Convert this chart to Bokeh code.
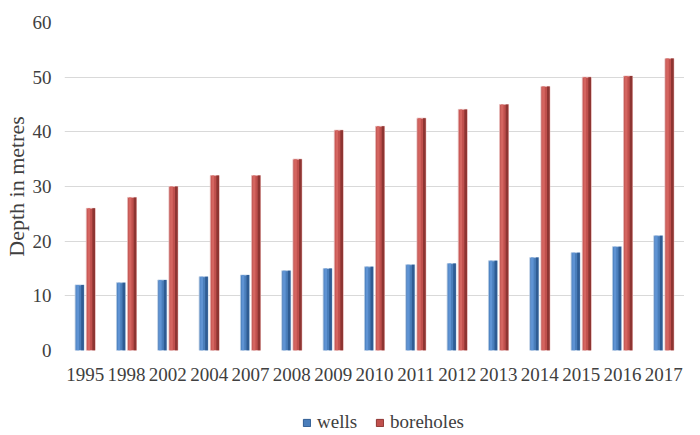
from bokeh.plotting import figure
from bokeh.layouts import column
from bokeh.models import ColumnDataSource, FactorRange, Legend, LegendItem, SingleIntervalTicker
from bokeh.transform import dodge
from bokeh.embed import file_html
from bokeh.resources import INLINE

years = ["1995", "1998", "2002", "2004", "2007", "2008", "2009", "2010",
         "2011", "2012", "2013", "2014", "2015", "2016", "2017"]
wells = [12.0, 12.4, 12.9, 13.5, 13.8, 14.6, 15.0, 15.3, 15.7, 15.9, 16.4, 17.0, 17.9, 19.0, 21.0]
boreholes = [26.0, 28.0, 30.0, 32.0, 32.0, 35.0, 40.3, 41.0, 42.5, 44.1, 45.0, 48.3, 50.0, 50.2, 53.4]
series_names = ["wells", "boreholes"]

FONT = "Liberation Serif"
TXT = "#404040"
BLUE = ("#4A7EBB", "#5F93D3", "#2F5C93", "#B9CDE5")
RED = ("#C0504D", "#D46560", "#8E3532", "#E6B9B8")

src = ColumnDataSource(dict(years=years, wells=wells, boreholes=boreholes))

p = figure(width=684, height=411, x_range=FactorRange(factors=years), y_range=(0, 60),
           output_backend="svg", toolbar_location=None,
           min_border_left=60, min_border_right=0, min_border_top=22, min_border_bottom=61)
p.outline_line_color = None
p.background_fill_color = "white"

W = 0.215
OFF = 0.135

def cyl(col, off, colors):
    base, light, dark, edge = colors
    p.vbar(x=dodge("years", off, range=p.x_range), top=col, width=W, source=src,
           fill_color=base, line_color=edge, line_width=1, line_alpha=0.8)
    p.vbar(x=dodge("years", off - W * 0.22, range=p.x_range), top=col, width=W * 0.3,
           source=src, fill_color=light, line_color=None)
    p.vbar(x=dodge("years", off + W * 0.33, range=p.x_range), top=col, width=W * 0.3,
           source=src, fill_color=dark, line_color=None)

cyl("wells", -OFF, BLUE)
cyl("boreholes", OFF, RED)

p.xgrid.grid_line_color = None
p.ygrid.grid_line_color = "#D9D9D9"
p.ygrid.grid_line_width = 1

p.yaxis.ticker = SingleIntervalTicker(interval=10)
for ax in (p.xaxis[0], p.yaxis[0]):
    ax.axis_line_color = None
    ax.major_tick_line_color = None
    ax.minor_tick_line_color = None
    ax.major_tick_out = 0
    ax.minor_tick_out = 0
    ax.major_label_text_font = FONT
    ax.major_label_text_font_size = "19px"
    ax.major_label_text_color = TXT

p.xaxis.major_label_standoff = 17
p.yaxis.major_label_standoff = 13
p.yaxis.axis_label = "Depth in metres"
p.yaxis.axis_label_text_font = FONT
p.yaxis.axis_label_text_font_size = "22px"
p.yaxis.axis_label_text_font_style = "normal"
p.yaxis.axis_label_text_color = TXT
p.yaxis.axis_label_standoff = 1

# legend strip below the chart (hidden proxy renderers carry the legend glyphs)
q = figure(width=684, height=22, x_range=p.x_range, y_range=p.y_range,
           output_backend="svg", toolbar_location=None,
           x_axis_location=None, y_axis_location=None,
           min_border_left=0, min_border_right=0, min_border_top=0, min_border_bottom=0)
q.outline_line_color = None
q.grid.grid_line_color = None
lw = q.vbar(x="years", top="wells", width=W, source=src,
            fill_color=BLUE[0], line_color=BLUE[2], visible=False)
lb = q.vbar(x="years", top="boreholes", width=W, source=src,
            fill_color=RED[0], line_color=RED[2], visible=False)
legend = Legend(items=[LegendItem(label=series_names[0], renderers=[lw]),
                       LegendItem(label=series_names[1], renderers=[lb])],
                orientation="horizontal", location=(238, 0),
                label_text_font=FONT, label_text_font_size="19px", label_text_color=TXT,
                glyph_width=9, glyph_height=9, label_standoff=6, spacing=18,
                border_line_color=None, background_fill_alpha=0,
                inactive_fill_alpha=0, margin=0, padding=0)
q.add_layout(legend, "center")

open("out.html", "w").write(file_html(column(p, q, spacing=0), INLINE))
